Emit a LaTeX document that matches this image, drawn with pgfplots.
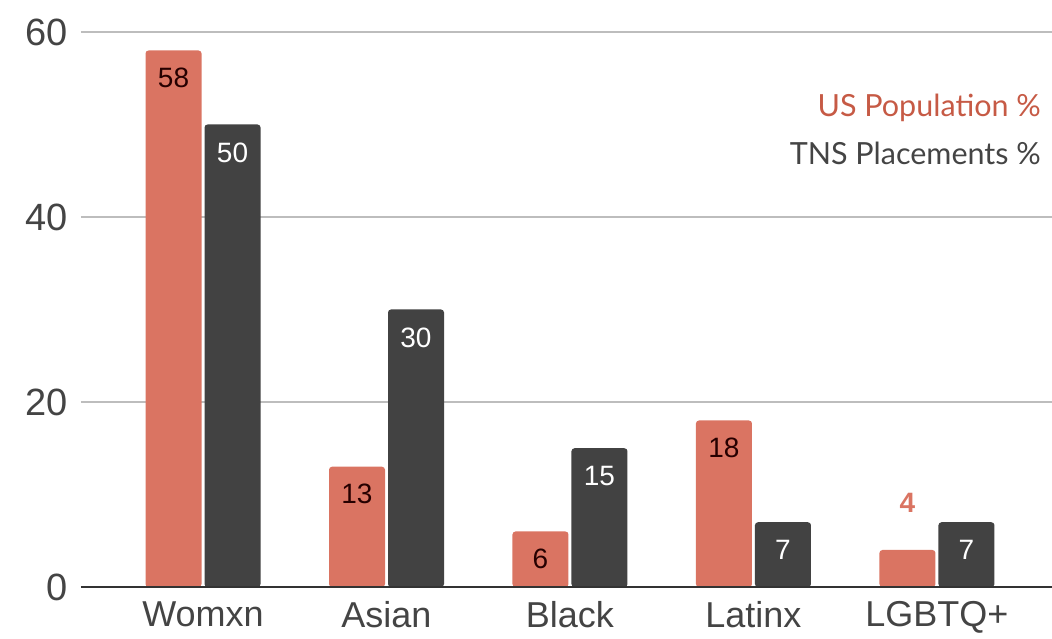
\documentclass[border=0pt]{standalone}
\usepackage{pgfplots}
\pgfplotsset{compat=1.18}
\usepackage{fontspec}
\setmainfont{Liberation Sans}
\newfontfamily\legfont{Lato}
\definecolor{barred}{HTML}{DA7462}
\definecolor{bardark}{HTML}{424242}
\definecolor{legred}{HTML}{C65A45}
\definecolor{txtgray}{HTML}{444444}
\definecolor{gridgray}{HTML}{BDBDBD}
\begin{document}
\begin{tikzpicture}
\path[use as bounding box] (-81bp,-52bp) rectangle (971bp,587bp);
\begin{axis}[
  scale only axis,
  width=971bp, height=555bp,
  ybar,
  bar width=56bp,
  xmin=-0.665, xmax=4.627,
  ymin=0, ymax=60,
  ytick={0,20,40,60},
  xtick={0,1,2,3,4},
  xticklabels={Womxn,Asian,Black,Latinx,LGBTQ+},
  axis line style={draw=none},
  major tick length=0pt,
  ymajorgrids,
  grid style={gridgray, line width=1.5bp},
  yticklabel style={font=\fontsize{38bp}{42bp}\selectfont, text=txtgray, xshift=-10bp},
  xticklabel style={font=\fontsize{36bp}{40bp}\selectfont, text=txtgray, yshift=-11bp},
  /pgf/number format/assume math mode=true,
  clip=false,
]
\addplot[fill=barred, draw=none, bar shift=-29.5bp,
  rounded corners=3bp,
  nodes near coords, point meta=explicit symbolic,
  every node near coord/.append style={anchor=center, yshift=-27bp, text=black!85!red, font=\fontsize{28bp}{32bp}\selectfont}]
  coordinates {(0,58)[58] (1,13)[13] (2,6)[6] (3,18)[18] (4,4)[]};
\addplot[fill=bardark, draw=none, bar shift=29.5bp,
  rounded corners=3bp,
  nodes near coords,
  every node near coord/.append style={anchor=center, yshift=-28bp, text=white, font=\fontsize{28bp}{32bp}\selectfont}]
  coordinates {(0,50) (1,30) (2,15) (3,7) (4,7)};
\addplot[draw=none, fill=none, bar shift=-29.5bp, forget plot,
  nodes near coords,
  every node near coord/.append style={anchor=center, yshift=47bp, text=barred, font=\bfseries\fontsize{28bp}{32bp}\selectfont}]
  coordinates {(4,4)};
\draw[line width=2bp, black!80] (axis cs:-0.665,0) -- (axis cs:4.627,0);
\node[anchor=east, text=legred, font=\legfont\fontsize{30.5bp}{34bp}\selectfont] at (axis cs:4.585,51.8) {US Population \%};
\node[anchor=east, text=txtgray, font=\legfont\fontsize{30.5bp}{34bp}\selectfont] at (axis cs:4.585,46.9) {TNS Placements \%};
\end{axis}
\end{tikzpicture}
\end{document}
